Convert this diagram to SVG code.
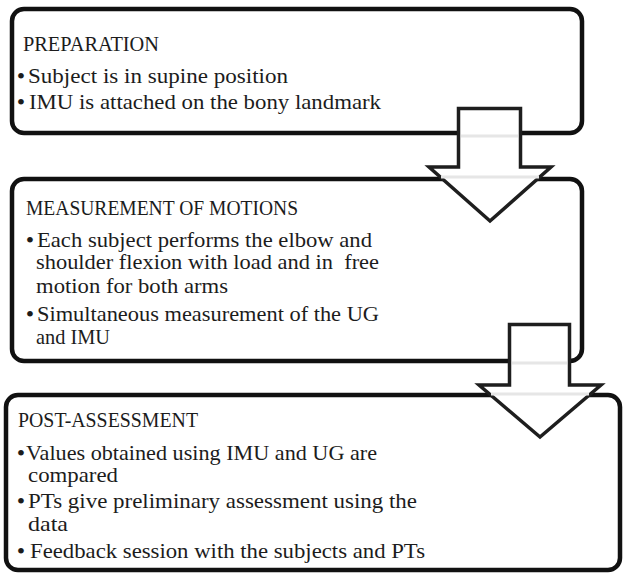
<svg xmlns="http://www.w3.org/2000/svg" width="624" height="574" viewBox="0 0 624 574">
<style>
.box{fill:#fff;stroke:#111;stroke-width:4.5}
.t{font-family:"Liberation Serif","Times New Roman",serif;font-size:21px;fill:#1c1c1c}
.b{font-family:"Liberation Serif","Times New Roman",serif;font-size:24px;fill:#1c1c1c;text-anchor:middle}
.arrow{fill:#fff;stroke:#1e1e1e;stroke-width:3.5;stroke-linejoin:miter}
.ghost{stroke:#e6e6e6;stroke-width:3}
</style>
<rect width="624" height="574" fill="#fff"/>
<g id="node-preparation">
<rect class="box" x="12" y="9" width="570" height="124" rx="12"/>
<text class="t" x="23" y="51" textLength="136" lengthAdjust="spacingAndGlyphs">PREPARATION</text>
<text class="b" x="21" y="84">•</text>
<text class="t" x="28" y="83" textLength="260" lengthAdjust="spacingAndGlyphs">Subject is in supine position</text>
<text class="b" x="21" y="110">•</text>
<text class="t" x="29" y="109" textLength="352" lengthAdjust="spacingAndGlyphs">IMU is attached on the bony landmark</text>
</g>
<g id="node-measurement">
<rect class="box" x="12" y="179" width="570" height="182" rx="12"/>
<text class="t" x="26" y="215" textLength="272" lengthAdjust="spacingAndGlyphs">MEASUREMENT OF MOTIONS</text>
<text class="b" x="30" y="248">•</text>
<text class="t" x="37" y="247" textLength="335" lengthAdjust="spacingAndGlyphs">Each subject performs the elbow and</text>
<text class="t" x="36" y="269" textLength="343" lengthAdjust="spacingAndGlyphs">shoulder flexion with load and in&#160; free</text>
<text class="t" x="36" y="293" textLength="192" lengthAdjust="spacingAndGlyphs">motion for both arms</text>
<text class="b" x="30" y="322">•</text>
<text class="t" x="37" y="321" textLength="342" lengthAdjust="spacingAndGlyphs">Simultaneous measurement of the UG</text>
<text class="t" x="36" y="344" textLength="74" lengthAdjust="spacingAndGlyphs">and IMU</text>
</g>
<g id="node-post-assessment">
<rect class="box" x="6" y="395" width="614" height="175" rx="12"/>
<text class="t" x="18" y="427" textLength="180" lengthAdjust="spacingAndGlyphs">POST-ASSESSMENT</text>
<text class="b" x="21" y="461">•</text>
<text class="t" x="26" y="460" textLength="351" lengthAdjust="spacingAndGlyphs">Values obtained using IMU and UG are</text>
<text class="t" x="28" y="482" textLength="90" lengthAdjust="spacingAndGlyphs">compared</text>
<text class="b" x="21" y="509">•</text>
<text class="t" x="28" y="508" textLength="389" lengthAdjust="spacingAndGlyphs">PTs give preliminary assessment using the</text>
<text class="t" x="28" y="531" textLength="40" lengthAdjust="spacingAndGlyphs">data</text>
<text class="b" x="21" y="559">•</text>
<text class="t" x="30" y="558" textLength="395" lengthAdjust="spacingAndGlyphs">Feedback session with the subjects and PTs</text>
</g>
<g id="connectors">
<g id="arrow-1">
<polygon class="arrow" points="458.5,108.5 520.5,108.5 520.5,167 551,167 490,221 429,167 458.5,167"/>
<line class="ghost" x1="461" y1="136" x2="518" y2="136"/>
<line class="ghost" x1="441" y1="177" x2="539" y2="177"/>
</g>
<g id="arrow-2">
<polygon class="arrow" points="509.5,324.5 569.5,324.5 569.5,385 601,385 540,437 479,385 509.5,385"/>
<line class="ghost" x1="512" y1="363" x2="567" y2="363"/>
<line class="ghost" x1="491" y1="394" x2="589" y2="394"/>
</g>
</g>
</svg>
